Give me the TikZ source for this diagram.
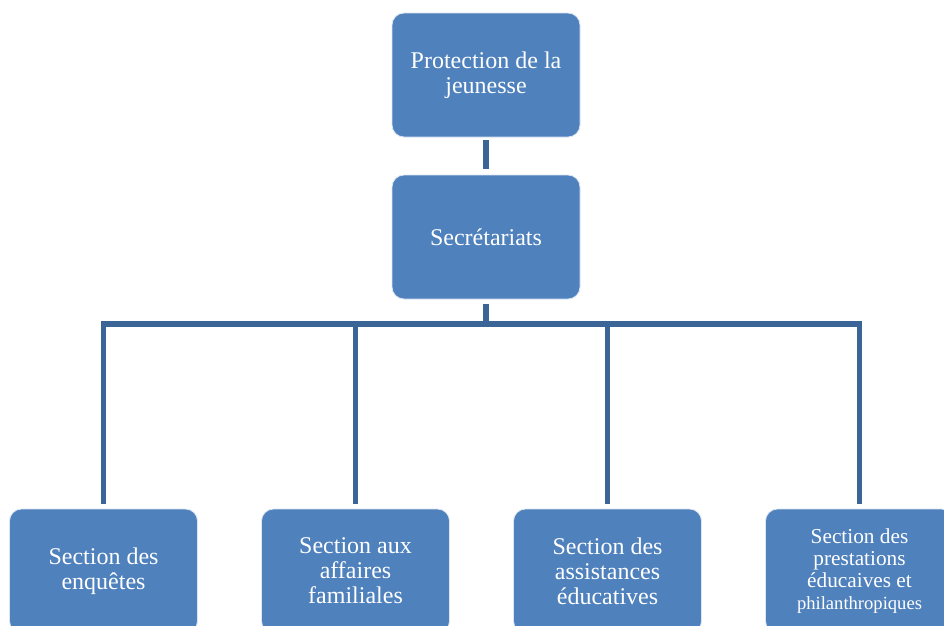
\documentclass[tikz,border=0pt]{standalone}
\usepackage{fontspec}
\setmainfont{Liberation Serif}
\usetikzlibrary{positioning}
\definecolor{boxblue}{HTML}{4F81BD}
\definecolor{linkblue}{HTML}{3C6597}

\begin{document}
\begin{tikzpicture}[x=1pt, y=-1pt,
    unitbox/.style={draw=white!80!boxblue, line width=0.8pt, fill=boxblue, rounded corners=12pt,
        minimum width=188pt, minimum height=124pt, align=center, text=white,
        font=\fontsize{24}{25}\selectfont},
    link/.style={draw=linkblue, line width=5.5pt}]
    % Page frame
    \clip (0,0) rectangle (944,625);
    \fill[white] (0,0) rectangle (944,625);

    % Head of the chart
    \node[unitbox] (prot) at (486,75) {Protection de la\\jeunesse};
    \node[unitbox] (secr) at (486,237) {Secrétariats};

    % Sections
    \node[unitbox] (enq) at (103.5,571) {Section des\\enquêtes};
    \node[unitbox, right=63.2pt of enq] (fam) {Section aux\\affaires\\familiales};
    \node[unitbox, right=63.2pt of fam] (ass) {Section des\\assistances\\éducatives};
    \node[unitbox, right=63.2pt of ass, font=\fontsize{21.3}{22}\selectfont] (phil)
        {Section des\\prestations\\éducaives et\\{\fontsize{18.6}{22}\selectfont philanthropiques}};

    % Connectors
    \coordinate (bar) at (486,324);
    \draw[link, shorten <=3pt, shorten >=6pt] (prot) -- (secr);
    \draw[link, shorten <=5pt] (secr) -- (secr |- bar);
    \draw[link, line cap=rect] (bar -| enq) -- (bar -| phil);
    \foreach \s in {enq,fam,ass,phil}
        \draw[link, shorten >=5pt] (bar -| \s) -- (\s);
\end{tikzpicture}
\end{document}
